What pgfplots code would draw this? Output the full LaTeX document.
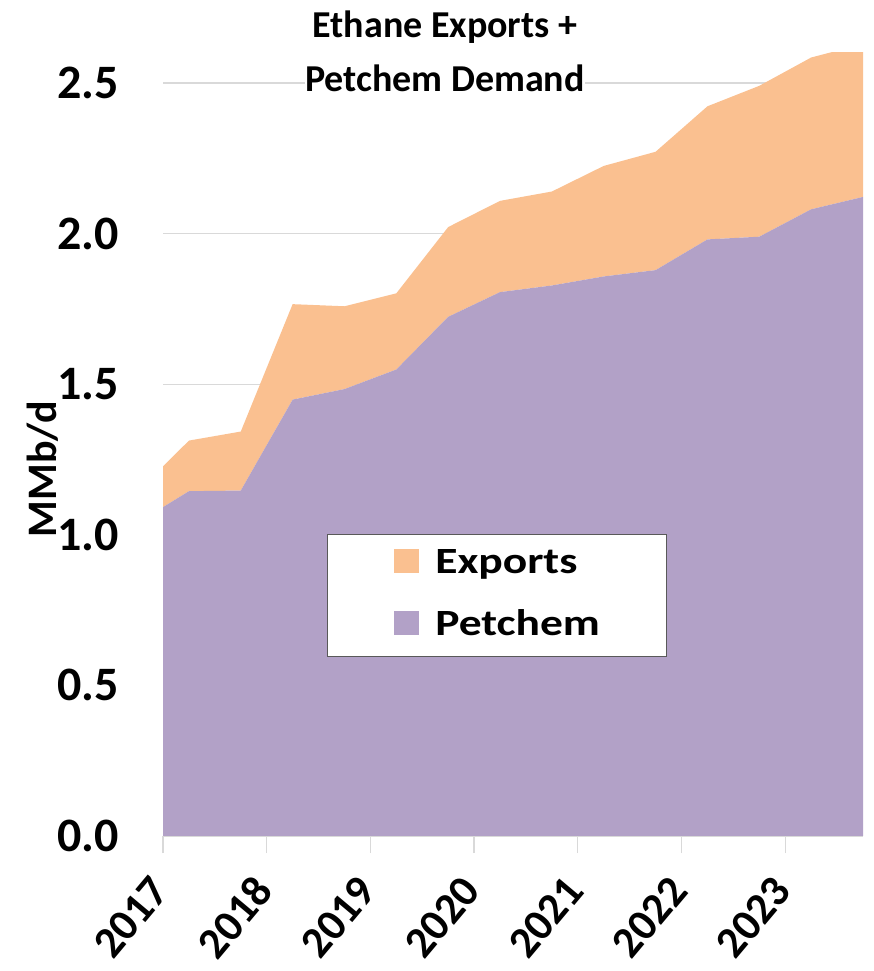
\documentclass[border=0pt]{standalone}
\usepackage{fontspec}
\setmainfont{Carlito}
\usepackage{graphicx}
\usepackage{pgfplots}
\usepackage{pgfplotstable}
\pgfplotsset{compat=1.18}
\definecolor{expc}{RGB}{250,192,144}
\definecolor{petc}{RGB}{178,161,199}
\definecolor{gridc}{RGB}{217,217,217}
\definecolor{legc}{RGB}{89,89,89}
\pgfplotstableread{
x pet exp
2017.00 1.092 0.135
2017.25 1.145 0.168
2017.75 1.147 0.196
2018.25 1.449 0.317
2018.75 1.484 0.275
2019.25 1.549 0.253
2019.75 1.724 0.298
2020.25 1.806 0.303
2020.75 1.828 0.312
2021.25 1.858 0.367
2021.75 1.879 0.393
2022.25 1.981 0.442
2022.75 1.990 0.501
2023.25 2.081 0.504
2023.75 2.122 0.508
}\data
\begin{document}
\begin{tikzpicture}[x=1pt,y=1pt]
\begin{axis}[
  at={(163pt,135pt)}, anchor=south west,
  scale only axis, width=700pt, height=783pt,
  xmin=2017, xmax=2023.75, ymin=0, ymax=2.6,
  stack plots=y,
  axis line style={draw=none},
  xtick={2017,2018,2019,2020,2021,2022,2023},
  xticklabels={2017,2018,2019,2020,2021,2022,2023},
  ytick={0,0.5,1,1.5,2,2.5},
  xtick pos=bottom, ytick pos=left,
  tick align=outside,
  major tick length=17pt,
  xtick style={draw=gridc, line width=1.3pt},
  ytick style={draw=none},
  ymajorgrids, grid style={gridc, line width=1.3pt},
  /pgf/number format/assume math mode=true,
  yticklabel style={/pgf/number format/.cd, fixed, fixed zerofill, precision=1, /tikz/.cd,
    inner sep=0pt, xshift=-27pt, anchor=east, font=\fontsize{48}{48}\selectfont\bfseries},
  xticklabel style={inner sep=0pt, xshift=-3pt, yshift=-30pt, rotate=50, anchor=east,
    font=\fontsize{44}{44}\selectfont\bfseries},
  ylabel={MMb/d},
  ylabel style={at={(axis description cs:-0.152,0.469)}, anchor=base, rotate=0,
    font=\fontsize{42}{42}\selectfont\bfseries},
  reverse legend,
  legend style={at={(axis description cs:0.234,0.229)}, anchor=south west,
    draw=legc, line width=1pt, fill=white,
    inner xsep=67pt, inner ysep=10pt, row sep=22pt, column sep=16pt,
    font=\fontsize{37}{37}\selectfont\bfseries,
    nodes={inner sep=0pt, text height=29pt, text depth=11pt}},
  legend cell align=left,
]
\addplot[fill=petc, draw=none,
  legend image code/.code={\fill[petc] (0pt,-9pt) rectangle (25pt,15pt);}]
  table[x=x, y=pet] {\data} \closedcycle;
\addlegendentry{\scalebox{1.23}[1]{Petchem}}
\addplot[fill=expc, draw=none,
  legend image code/.code={\fill[expc] (0pt,-9pt) rectangle (25pt,15pt);}]
  table[x=x, y=exp] {\data} \closedcycle;
\addlegendentry{\scalebox{1.23}[1]{Exports}}
\end{axis}
\node[anchor=north, align=center, fill=white, inner sep=0pt,
  font=\fontsize{38}{54}\selectfont\bfseries] at (445pt,960pt) {Ethane Exports +\\Petchem Demand};
\pgfresetboundingbox
\useasboundingbox (0pt,0pt) rectangle (874pt,971pt);
\end{tikzpicture}
\end{document}
